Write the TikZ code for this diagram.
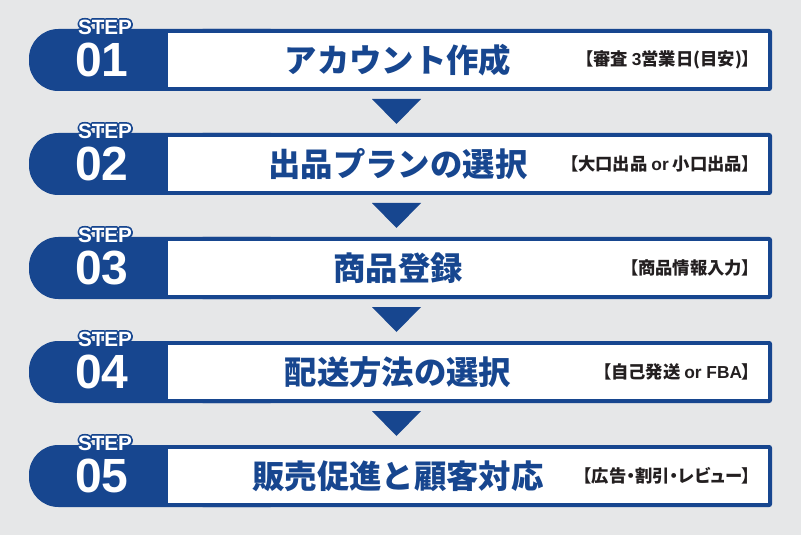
\documentclass[tikz,border=0pt]{standalone}
\usepackage{fontspec}
\setmainfont{Liberation Sans}
\newfontfamily\jpfont{Noto Sans CJK JP}
\newfontfamily\jplabelfont[RawFeature=+palt]{Noto Sans CJK JP}
\newfontfamily\latfont{Liberation Sans}
\definecolor{stepblue}{HTML}{17468F}
\definecolor{bggray}{HTML}{E6E7E8}
\definecolor{labelblack}{HTML}{231F20}

% outlined text: stroke only (text render mode 1)
\newcommand{\strokedtext}[1]{\special{pdf:literal direct 1 Tr 2.6 w 1 j}#1\special{pdf:literal direct 0 Tr}}

\tikzset{
  steptag/.style={text=white,font=\bfseries\fontsize{15.5}{15.5}\selectfont,inner sep=0pt},
  steptagline/.style={steptag,text=stepblue},
  stepnum/.style={text=white,font=\bfseries\fontsize{36}{36}\selectfont,inner sep=0pt},
  steptitle/.style={text=stepblue,font=\jpfont\bfseries\fontsize{24.3}{24.3}\selectfont,inner sep=0pt},
  steplabel/.style={text=labelblack,font=\jplabelfont\bfseries\fontsize{13}{13}\selectfont,inner sep=0pt,anchor=east},
  downtri/.style={fill=stepblue}
}

\begin{document}
\begin{tikzpicture}[x=0.75pt,y=-0.75pt]

	\useasboundingbox (0,0) rectangle (801,535);
	\fill[bggray] (0,0) rectangle (801,535);

	% step 1
	\fill[stepblue,rounded corners=22pt] (29,29) rectangle (300,91);
	\fill[stepblue,rounded corners=2pt] (200,29) rectangle (772,91);
	\fill[white] (168,33) rectangle (768,87);
	\node[steptagline] (line1) at (105,27) {\strokedtext{STEP}};
	\node[steptag] (tag1) at (line1) {STEP};
	\node[stepnum] (num1) at (102,60) {01};
	\node[steptitle] (title1) at (398,60) {アカウント作成};
	\node[steplabel] (label1) at (751,60) {【審査 {\latfont 3}営業日(目安)】};
	\fill[downtri] (372,99) -- (421,99) -- (396.5,124) -- cycle;

	% step 2
	\fill[stepblue,rounded corners=22pt] (29,133) rectangle (300,195);
	\fill[stepblue,rounded corners=2pt] (200,133) rectangle (772,195);
	\fill[white] (168,137) rectangle (768,191);
	\node[steptagline] (line2) at (105,131) {\strokedtext{STEP}};
	\node[steptag] (tag2) at (line2) {STEP};
	\node[stepnum] (num2) at (102,164) {02};
	\node[steptitle] (title2) at (398,164) {出品プランの選択};
	\node[steplabel] (label2) at (751,164) {【大口出品 {\latfont or} 小口出品】};
	\fill[downtri] (372,203) -- (421,203) -- (396.5,228) -- cycle;

	% step 3
	\fill[stepblue,rounded corners=22pt] (29,237) rectangle (300,299);
	\fill[stepblue,rounded corners=2pt] (200,237) rectangle (772,299);
	\fill[white] (168,241) rectangle (768,295);
	\node[steptagline] (line3) at (105,235) {\strokedtext{STEP}};
	\node[steptag] (tag3) at (line3) {STEP};
	\node[stepnum] (num3) at (102,268) {03};
	\node[steptitle] (title3) at (398,268) {商品登録};
	\node[steplabel] (label3) at (751,268) {【商品情報入力】};
	\fill[downtri] (372,307) -- (421,307) -- (396.5,332) -- cycle;

	% step 4
	\fill[stepblue,rounded corners=22pt] (29,341) rectangle (300,403);
	\fill[stepblue,rounded corners=2pt] (200,341) rectangle (772,403);
	\fill[white] (168,345) rectangle (768,399);
	\node[steptagline] (line4) at (105,339) {\strokedtext{STEP}};
	\node[steptag] (tag4) at (line4) {STEP};
	\node[stepnum] (num4) at (102,372) {04};
	\node[steptitle] (title4) at (398,372) {配送方法の選択};
	\node[steplabel] (label4) at (751,372) {【自己発送 {\latfont or FBA}】};
	\fill[downtri] (372,411) -- (421,411) -- (396.5,436) -- cycle;

	% step 5
	\fill[stepblue,rounded corners=22pt] (29,445) rectangle (300,507);
	\fill[stepblue,rounded corners=2pt] (200,445) rectangle (772,507);
	\fill[white] (168,449) rectangle (768,503);
	\node[steptagline] (line5) at (105,443) {\strokedtext{STEP}};
	\node[steptag] (tag5) at (line5) {STEP};
	\node[stepnum] (num5) at (102,476) {05};
	\node[steptitle] (title5) at (398,476) {販売促進と顧客対応};
	\node[steplabel] (label5) at (751,476) {【広告・割引・レビュー】};

\end{tikzpicture}
\end{document}
